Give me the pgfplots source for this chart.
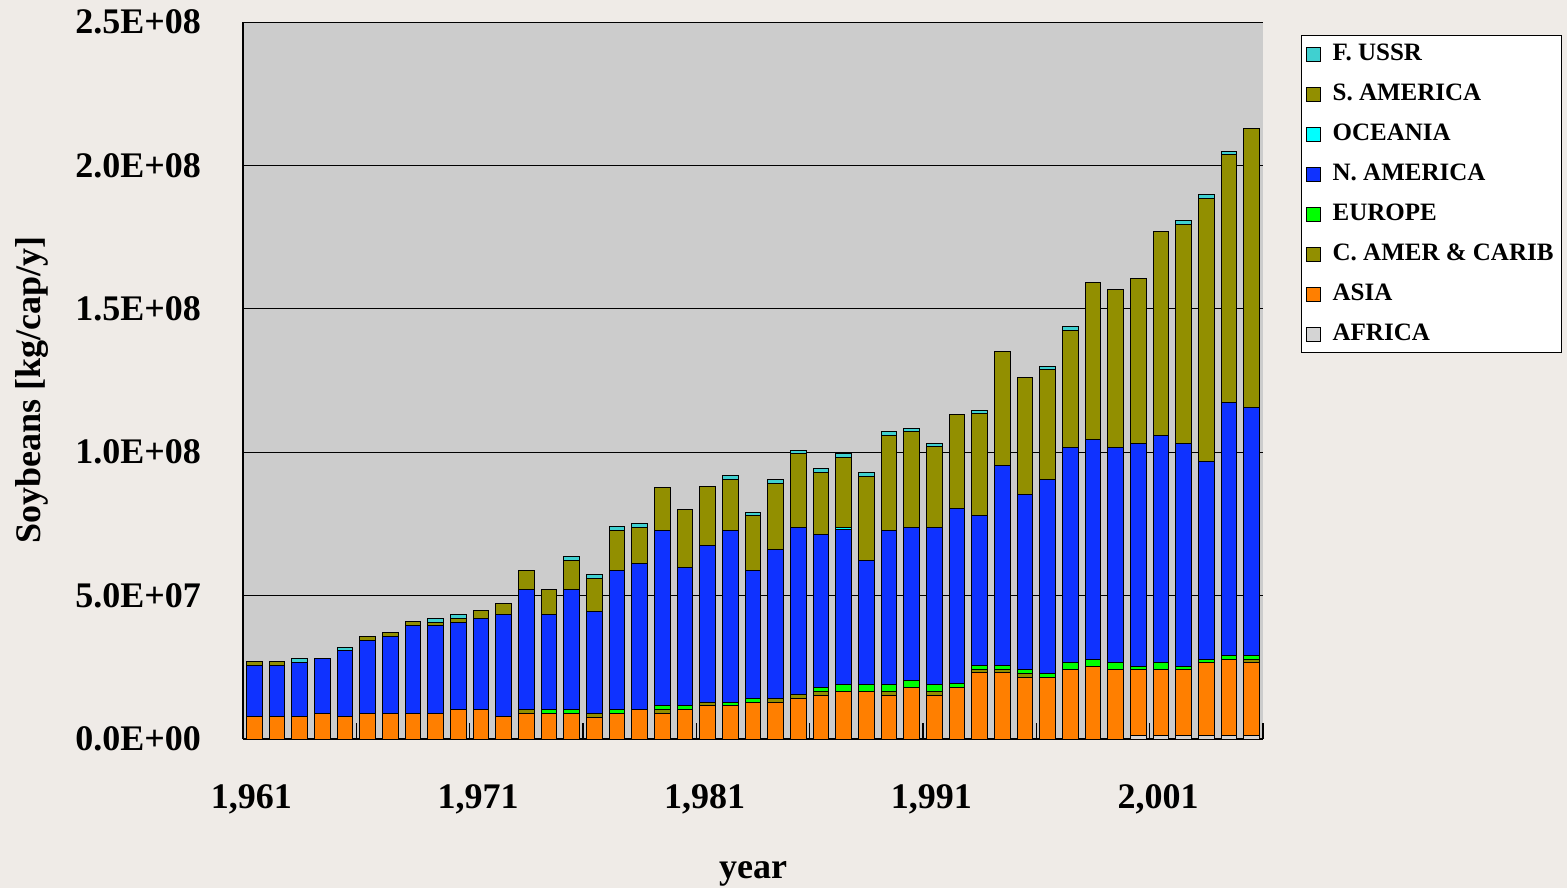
\documentclass[border=0pt]{standalone}
\usepackage{fontspec}
\setmainfont{Liberation Serif}
\usepackage{pgfplots}
\pgfplotsset{compat=1.18}
\usepackage{pgfplotstable}

\definecolor{pagebg}{HTML}{EFEBE7}
\definecolor{plotbg}{HTML}{CCCCCC}
\definecolor{cAF}{HTML}{D4D4D4}
\definecolor{cAS}{HTML}{FF7F00}
\definecolor{cOL}{HTML}{928F00}
\definecolor{cEU}{HTML}{00FF00}
\definecolor{cNA}{HTML}{0F32FF}
\definecolor{cOC}{HTML}{00FFFF}
\definecolor{cUS}{HTML}{40D0D0}

% values in millions (1E+06)
\pgfplotstableread{
year AF AS CA EU NA OC SA US
1961 0 7.8 0 0 17.7 0 1.5 0
1962 0 7.8 0 0 17.7 0 1.5 0
1963 0 7.8 0 0 18.9 0 0 1.4
1964 0 9.0 0 0 19.1 0 0 0
1965 0 7.8 0 0 22.9 0 0 1.3
1966 0 9.0 0 0 25.5 0 1.3 0
1967 0 9.0 0 0 26.8 0 1.4 0
1968 0 9.0 0 0 30.6 0 1.4 0
1969 0 9.0 0 0 30.6 0 1.2 1.3
1970 0 10.4 0 0 30.4 0 1.3 1.4
1971 0 10.4 0 0 31.7 0 2.6 0
1972 0 7.8 0 0 35.7 0 3.8 0
1973 0 9.0 1.4 0 41.8 0 6.4 0
1974 0 9.0 0 1.4 33.1 0 8.8 0
1975 0 9.0 0 1.4 41.8 0 10.1 1.2
1976 0 7.6 1.4 0 35.6 0 11.4 1.3
1977 0 9.0 0 1.4 48.2 0 14.0 1.4
1978 0 10.4 0 0 50.8 0 12.6 1.4
1979 0 9.0 1.4 1.3 60.9 0 15.1 0
1980 0 10.4 0 1.3 48.2 0 20.3 0
1981 0 11.6 1.3 0 54.6 0 20.5 0
1982 0 11.6 0 1.3 59.7 0 18.0 1.3
1983 0 12.9 0 1.3 44.4 0 19.2 1.2
1984 0 12.8 1.4 0 51.9 0 23.1 1.2
1985 0 14.2 1.2 0 58.5 0 25.5 1.2
1986 0 15.3 1.4 1.3 53.4 0 21.7 1.2
1987 0 16.7 0 2.4 53.8 0.9 24.4 1.4
1988 0 16.7 0 2.4 43.3 0 29.3 1.3
1989 0 15.3 1.4 2.4 53.5 0 33.2 1.3
1990 0 18.0 0 2.4 53.5 0 33.2 1.2
1991 0 15.3 1.4 2.4 54.8 0 28.0 1.2
1992 0 18.0 0 1.2 61.1 0 33.0 0
1993 0 23.1 1.2 1.3 52.2 0 35.6 1.2
1994 0 23.1 1.2 1.3 69.9 0 39.5 0
1995 0 21.6 1.1 1.4 61.2 0 40.6 0
1996 0 21.6 0 1.2 67.6 0 38.3 1.3
1997 0 24.2 0 2.4 75.2 0 40.8 1.4
1998 0 25.3 0 2.4 76.6 0 54.8 0
1999 0 24.2 0 2.4 75.2 0 54.8 0
2000 1.2 23.0 0 1.1 77.9 0 57.4 0
2001 1.2 23.0 0 2.4 79.2 0 71.3 0
2002 1.2 23.0 0 1.1 77.9 0 76.2 1.4
2003 1.2 25.4 0 1.2 69.0 0 91.7 1.3
2004 1.2 26.6 0 1.4 88.0 0 86.6 1.2
2005 1.2 25.4 1.2 1.4 86.5 0 97.0 0
}\data

\pgfplotsset{
  mybar/.style={fill=#1, draw=black, line width=0.5pt},
}

\begin{document}
\begin{tikzpicture}
\fill[pagebg] (0,0) rectangle (783.5pt,-444pt);
\begin{axis}[
  at={(121.5pt,-369.5pt)}, anchor=south west,
  scale only axis, width=510pt, height=358.5pt,
  ybar stacked, bar width=0.68,
  xmin=1960.5, xmax=2005.5,
  ymin=0, ymax=250,
  axis background/.style={fill=plotbg},
  axis x line*=bottom, axis y line*=left,
  axis line style={-, black, line width=0.9pt},
  ymajorgrids, grid style={black, line width=0.5pt},
  major tick length=0pt,
  xtick={1961,1971,1981,1991,2001},
  xticklabels={{1,961},{1,971},{1,981},{1,991},{2,001}},
  extra x ticks={1960.5,1965.5,1970.5,1975.5,1980.5,1985.5,1990.5,1995.5,2000.5,2005.5},
  extra x tick labels={},
  extra x tick style={major tick length=8pt, tick align=inside, tick style={black, line width=0.7pt}},
  ytick={0,50,100,150,200,250},
  yticklabels={0.0E+00,5.0E+07,1.0E+08,1.5E+08,2.0E+08,2.5E+08},
  ticklabel style={font=\fontsize{18}{20}\selectfont\bfseries},
  xticklabel style={anchor=center, yshift=-30pt, xshift=-1.5pt},
  yticklabel style={anchor=east, xshift=-17.5pt},
  xlabel={year},
  ylabel={Soybeans [kg/cap/y]},
  label style={font=\fontsize{18}{20}\selectfont\bfseries},
  xlabel style={at={(axis description cs:0.5,-0.188)}, anchor=center},
  ylabel style={at={(axis description cs:-0.207,0.487)}, anchor=center},
  reverse legend,
  legend cell align=left,
  legend image code/.code={\draw[#1, draw=black, line width=0.5pt] (0pt,-3.5pt) rectangle (7pt,3.5pt);},
  legend style={at={(axis description cs:1.0373,0.9819)}, anchor=north west,
    draw=black, fill=white, line width=0.6pt,
    font=\fontsize{12.5}{14}\selectfont\bfseries,
    inner xsep=2pt, inner ysep=1.75pt, row sep=5pt, column sep=4pt,
    nodes={inner sep=2pt, text height=8.5pt, text depth=2.5pt}},
]
\addplot[mybar=cAF] table[x=year,y=AF]{\data};
\addlegendentry{AFRICA}
\addplot[mybar=cAS] table[x=year,y=AS]{\data};
\addlegendentry{ASIA}
\addplot[mybar=cOL] table[x=year,y=CA]{\data};
\addlegendentry{C. AMER \& CARIB}
\addplot[mybar=cEU] table[x=year,y=EU]{\data};
\addlegendentry{EUROPE}
\addplot[mybar=cNA] table[x=year,y=NA]{\data};
\addlegendentry{N. AMERICA}
\addplot[mybar=cOC] table[x=year,y=OC]{\data};
\addlegendentry{OCEANIA}
\addplot[mybar=cOL] table[x=year,y=SA]{\data};
\addlegendentry{S. AMERICA}
\addplot[mybar=cUS] table[x=year,y=US]{\data};
\addlegendentry{F. USSR}
\end{axis}
\end{tikzpicture}
\end{document}
